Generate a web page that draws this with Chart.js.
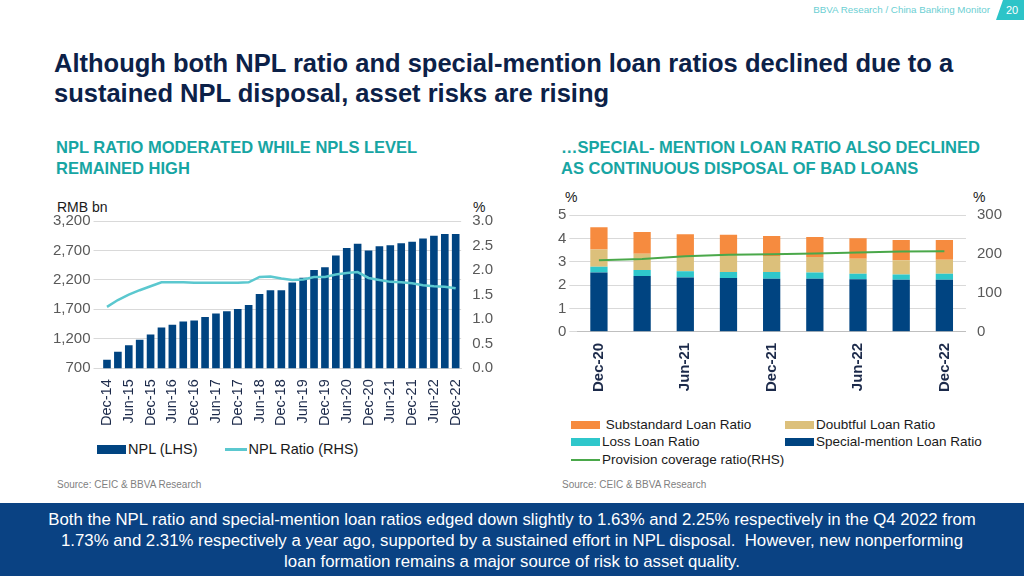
<!DOCTYPE html>
<html><head><meta charset="utf-8">
<script src="https://cdn.jsdelivr.net/npm/chart.js@4"></script>
<style>
body{margin:0;width:1024px;height:576px;position:relative;overflow:hidden;background:#fff;font-family:"Liberation Sans",Arial,sans-serif}
.abs{position:absolute}
#title{left:54px;top:48px;font-size:25.5px;font-weight:bold;color:#0c2148;line-height:30px}
.sub{font-size:16.5px;font-weight:bold;color:#17a5a3;line-height:21px}
.src{font-size:10px;color:#7f7f7f}
.leg{font-size:13.5px;color:#1a1a1a;display:flex;align-items:center;white-space:nowrap}
.sw{display:inline-block;width:29px;height:8px;margin-right:2px}
.ln{display:inline-block;width:29px;height:2px;margin-right:2px}
</style></head><body>
<div class="abs" style="right:34px;top:4px;font-size:9.8px;color:#6ccfd3">BBVA Research / China Banking Monitor</div>
<div class="abs" style="left:996px;top:0;width:28px;height:20px;background:#2dc4c8;clip-path:polygon(25% 0,100% 0,100% 100%,0 100%);color:#fff;font-size:11px;line-height:20px;text-align:center;padding-left:4px;box-sizing:border-box">20</div>
<div id="title" class="abs">Although both NPL ratio and special-mention loan ratios declined due to a<br>sustained NPL disposal, asset risks are rising</div>
<div class="abs sub" style="left:56px;top:137px">NPL RATIO MODERATED WHILE NPLS LEVEL<br>REMAINED HIGH</div>
<div class="abs sub" style="left:561px;top:137px">…SPECIAL- MENTION LOAN RATIO ALSO DECLINED<br>AS CONTINUOUS DISPOSAL OF BAD LOANS</div>

<div class="abs" style="left:57px;top:199px;font-size:14px;color:#1a1a1a">RMB bn</div>
<div class="abs" style="left:473px;top:199px;font-size:14px;color:#1a1a1a">%</div>
<div class="abs" style="left:50px;top:209px;width:446px;height:220px"><canvas id="c1"></canvas></div>
<div class="abs leg" style="left:97px;top:441px;font-size:14.5px"><span class="sw" style="background:#004481;height:9px"></span>NPL (LHS)<span style="width:27px"></span><span class="ln" style="background:#5bc8cf;width:22px;height:3px"></span>NPL Ratio (RHS)</div>
<div class="abs src" style="left:57px;top:479px">Source: CEIC &amp; BBVA Research</div>

<div class="abs" style="left:565px;top:189px;font-size:14px;color:#1a1a1a">%</div>
<div class="abs" style="left:973px;top:189px;font-size:14px;color:#1a1a1a">%</div>
<div class="abs" style="left:555px;top:203px;width:450px;height:192px"><canvas id="c2"></canvas></div>
<div class="abs leg" style="left:571px;top:417px"><span class="sw" style="background:#f68b3f"></span>&nbsp;Substandard Loan Ratio</div>
<div class="abs leg" style="left:785px;top:417px"><span class="sw" style="background:#dcc07b"></span>Doubtful Loan Ratio</div>
<div class="abs leg" style="left:571px;top:434px"><span class="sw" style="background:#2fc7cb"></span>Loss Loan Ratio</div>
<div class="abs leg" style="left:785px;top:434px"><span class="sw" style="background:#004481"></span>Special-mention Loan Ratio</div>
<div class="abs leg" style="left:571px;top:452px"><span class="ln" style="background:#4aa84a"></span>Provision coverage ratio(RHS)</div>
<div class="abs src" style="left:562px;top:479px">Source: CEIC &amp; BBVA Research</div>

<div class="abs" style="left:0;top:503px;width:1024px;height:73px;background:#0a4283;color:#fff;font-size:16.8px;line-height:21px;text-align:center;padding-top:6px;box-sizing:border-box">Both the NPL ratio and special-mention loan ratios edged down slightly to 1.63% and 2.25% respectively in the Q4 2022 from<br>1.73% and 2.31% respectively a year ago, supported by a sustained effort in NPL disposal.&nbsp; However, new nonperforming<br>loan formation remains a major source of risk to asset quality.</div>

<script>
const quarters=["Dec-14","Mar-15","Jun-15","Sep-15","Dec-15","Mar-16","Jun-16","Sep-16","Dec-16","Mar-17","Jun-17","Sep-17","Dec-17","Mar-18","Jun-18","Sep-18","Dec-18","Mar-19","Jun-19","Sep-19","Dec-19","Mar-20","Jun-20","Sep-20","Dec-20","Mar-21","Jun-21","Sep-21","Dec-21","Mar-22","Jun-22","Sep-22","Dec-22"];
const nplLevel=[843,982,1092,1186,1274,1392,1437,1494,1512,1571,1629,1667,1706,1774,1962,2025,2025,2157,2237,2369,2413,2614,2740,2814,2700,2770,2790,2824,2847,2902,2950,2980,2980];
const nplRatio=[1.25,1.39,1.50,1.59,1.67,1.75,1.75,1.75,1.74,1.74,1.74,1.74,1.74,1.75,1.86,1.87,1.83,1.80,1.81,1.86,1.86,1.91,1.94,1.96,1.84,1.80,1.76,1.75,1.73,1.69,1.67,1.66,1.63];
const q2=["Dec-20","Mar-21","Jun-21","Sep-21","Dec-21","Mar-22","Jun-22","Sep-22","Dec-22"];
const specialMention=[2.54,2.39,2.32,2.30,2.27,2.27,2.25,2.23,2.23];
const lossLoan=[0.25,0.26,0.27,0.26,0.29,0.27,0.24,0.22,0.25];
const doubtful=[0.73,0.69,0.65,0.74,0.68,0.66,0.64,0.61,0.60];
const substandard=[0.96,0.93,0.94,0.85,0.86,0.86,0.88,0.87,0.85];
const provision=[184,187,194,198,199,201,204,206,207];

Chart.defaults.font.family='"Liberation Sans",Arial,sans-serif';
Chart.defaults.animation=false;
const every2=function(v,i){return i%2===0?this.getLabelForValue(v):'';};
new Chart(document.getElementById('c1'),{
 data:{labels:quarters,datasets:[
  {type:'line',data:nplRatio,yAxisID:'y1',borderColor:'#5bc8cf',borderWidth:2.5,pointRadius:0,tension:0},
  {type:'bar',data:nplLevel,yAxisID:'y',backgroundColor:'#004481',categoryPercentage:1,barPercentage:0.7}]},
 options:{responsive:true,maintainAspectRatio:false,plugins:{legend:{display:false},tooltip:{enabled:false}},
  layout:{padding:{top:2}},
  scales:{
   x:{grid:{display:false},border:{color:'#d9d9d9'},ticks:{autoSkip:false,maxRotation:90,minRotation:90,callback:every2,color:'#1c2a4a',font:{size:14.5}}},
   y:{min:700,max:3200,ticks:{stepSize:500,color:'#595959',font:{size:15},callback:v=>v.toLocaleString('en-US')},grid:{color:'#d9d9d9'},border:{display:false}},
   y1:{position:'right',min:0,max:3,ticks:{stepSize:0.5,color:'#595959',font:{size:15},callback:v=>v.toFixed(1)},grid:{display:false},border:{display:false}}
  }}
});
new Chart(document.getElementById('c2'),{
 data:{labels:q2,datasets:[
  {type:'line',data:provision,yAxisID:'y1',borderColor:'#4aa84a',borderWidth:2,pointRadius:0},
  {type:'bar',data:specialMention,backgroundColor:'#004481',stack:'s',barPercentage:0.4,categoryPercentage:1},
  {type:'bar',data:lossLoan,backgroundColor:'#2fc7cb',stack:'s',barPercentage:0.4,categoryPercentage:1},
  {type:'bar',data:doubtful,backgroundColor:'#dcc07b',stack:'s',barPercentage:0.4,categoryPercentage:1},
  {type:'bar',data:substandard,backgroundColor:'#f68b3f',stack:'s',barPercentage:0.4,categoryPercentage:1}]},
 options:{responsive:true,maintainAspectRatio:false,plugins:{legend:{display:false},tooltip:{enabled:false}},
  layout:{padding:{top:6}},
  scales:{
   x:{stacked:true,grid:{display:false,drawTicks:true},border:{color:'#bfbfbf'},ticks:{autoSkip:false,maxRotation:90,minRotation:90,callback:every2,color:'#1c2a4a',font:{size:15,weight:'bold'}}},
   y:{stacked:true,min:0,max:5,ticks:{stepSize:1,color:'#595959',font:{size:15}},grid:{color:'#d9d9d9'},border:{display:false}},
   y1:{position:'right',min:0,max:300,ticks:{stepSize:100,color:'#595959',font:{size:15}},grid:{display:false},border:{display:false}}
  }}
});
</script>
</body></html>
